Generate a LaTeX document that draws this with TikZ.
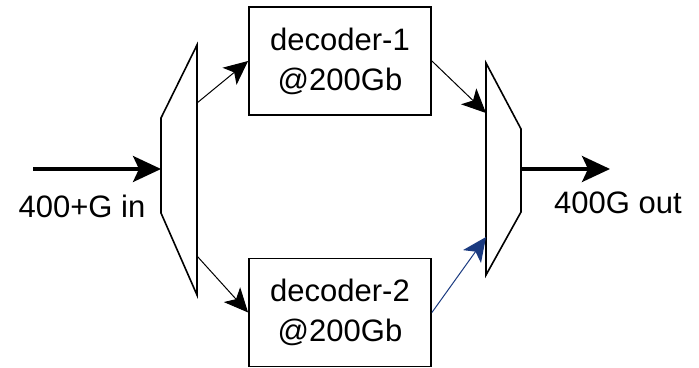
\documentclass[tikz,border=0pt]{standalone}
\usepackage{fontspec}
\setmainfont{Liberation Sans}
\usetikzlibrary{arrows.meta,positioning}
\definecolor{linkblue}{HTML}{1A3A80}
\tikzset{
  decoder/.style={
    draw,
    line width=0.9pt,
    minimum width=91pt,
    minimum height=54pt,
    align=center,
    inner sep=0pt,
    font=\fontsize{15.5}{20}\selectfont
  },
  mux/.style={
    draw,
    line width=0.8pt,
    line join=miter
  },
  trunk/.style={
    line width=1.6pt,
    -{Stealth[length=14pt,width=13pt,inset=3pt]}
  },
  lane/.style={
    line width=0.5pt,
    -{Stealth[length=12pt,width=11pt,inset=3pt]}
  },
  portlabel/.style={
    font=\fontsize{15.5}{20}\selectfont,
    inner sep=0pt
  }
}
\begin{document}
\begin{tikzpicture}[x=0.5pt,y=-0.5pt]
    \useasboundingbox (0,0) rectangle (699,368);
    % splitter and combiner
    \draw[mux] (161,118) -- (197,45) -- (197,295) -- (161,213) -- cycle;
    \draw[mux] (486,63) -- (521,129) -- (521,212) -- (486,275) -- cycle;
    \coordinate (src) at (33,169);
    \coordinate (split-in) at (161,169);
    \coordinate (split-a) at (197,103);
    \coordinate (split-b) at (197,256);
    \coordinate (join-a) at (486,113);
    \coordinate (join-b) at (486,237);
    \coordinate (join-out) at (521,169);
    \coordinate (sink) at (610,169);
    % decoders
    \node[decoder] (dec1) at (340,61) {decoder-1\\@200Gb};
    \node[decoder] (dec2) at (340,312.5) {decoder-2\\@200Gb};
    % links
    \draw[trunk] (src) -- (split-in);
    \draw[trunk] (join-out) -- (sink);
    \draw[lane] (split-a) -- (dec1.west);
    \draw[lane] (split-b) -- (dec2.west);
    \draw[lane] (dec1.east) -- (join-a);
    \draw[lane, linkblue] (dec2.east) -- (join-b);
    \node[portlabel] (in-label) at (82,206) {400+G in};
    \node[portlabel] (out-label) at (618,203) {400G out};
\end{tikzpicture}
\end{document}
